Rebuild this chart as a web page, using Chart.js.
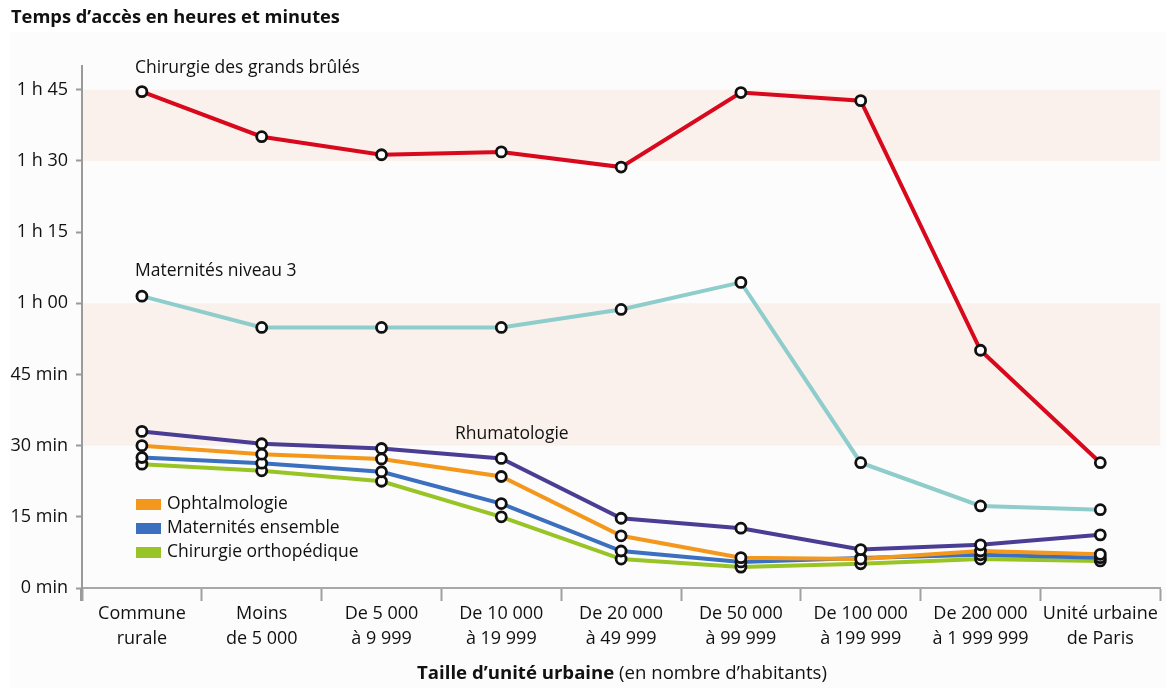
<!DOCTYPE html>
<html lang="fr">
<head>
<meta charset="utf-8">
<script src="https://cdn.jsdelivr.net/npm/chart.js@4.4.1/dist/chart.umd.min.js"></script>
<style>
  html, body { margin: 0; padding: 0; background: #ffffff; }
  #wrap { width: 1168px; height: 688px; position: relative; }
</style>
</head>
<body>
<div id="wrap"><canvas id="c" width="1168" height="688"></canvas></div>
<script>
// Catégories : taille d'unité urbaine
const categories = [
  ["Commune", "rurale"],
  ["Moins", "de 5 000"],
  ["De 5 000", "à 9 999"],
  ["De 10 000", "à 19 999"],
  ["De 20 000", "à 49 999"],
  ["De 50 000", "à 99 999"],
  ["De 100 000", "à 199 999"],
  ["De 200 000", "à 1 999 999"],
  ["Unité urbaine", "de Paris"]
];

// Temps d'accès, en minutes
const grandsBrules    = [104.6, 95.1, 91.3, 91.9, 88.7, 104.4, 102.7, 50.1, 26.4];
const maternitesN3    = [61.5, 54.9, 54.9, 54.9, 58.7, 64.4, 26.4, 17.3, 16.5];
const rhumatologie    = [33.0, 30.4, 29.4, 27.3, 14.7, 12.6, 8.1, 9.1, 11.2];
const ophtalmologie   = [30.0, 28.2, 27.2, 23.5, 11.0, 6.4, 6.1, 7.8, 7.1];
const maternitesEns   = [27.5, 26.3, 24.5, 17.8, 7.8, 5.5, 6.3, 7.0, 6.4];
const chirOrtho       = [26.1, 24.7, 22.5, 15.0, 6.1, 4.4, 5.1, 6.1, 5.7];

// Graduations de l'axe vertical
const yTickValues = [0, 15, 30, 45, 60, 75, 90, 105];
const yTickLabels = ["0 min", "15 min", "30 min", "45 min", "1 h 00", "1 h 15", "1 h 30", "1 h 45"];

// Bandes de fond (en minutes)
const bands = [[30, 60], [90, 105]];

const FONT = "'Open Sans', 'Noto Sans', sans-serif";

function series(label, data, color) {
  return {
    label, data,
    borderColor: color,
    backgroundColor: color,
    borderWidth: 4,
    tension: 0,
    pointRadius: 5,
    pointHoverRadius: 5,
    pointBorderWidth: 2.8,
    pointBorderColor: '#111111',
    pointBackgroundColor: '#ffffff'
  };
}

const datasets = [
  series("Chirurgie des grands brûlés", grandsBrules, '#d8091c'),
  series("Maternités niveau 3", maternitesN3, '#8ecdcb'),
  series("Rhumatologie", rhumatologie, '#4a3d94'),
  series("Ophtalmologie", ophtalmologie, '#f3981c'),
  series("Maternités ensemble", maternitesEns, '#3b6fbf'),
  series("Chirurgie orthopédique", chirOrtho, '#98c426')
];

// Fond, bandes, prolongements d'axes, textes
const decorPlugin = {
  id: 'decor',
  beforeDraw(chart) {
    const { ctx, chartArea: a, scales: { y } } = chart;
    ctx.save();
    ctx.fillStyle = '#fcfcfc';
    ctx.fillRect(10, 32, 1156, 656);
    ctx.fillStyle = '#faf1ec';
    bands.forEach(([lo, hi]) => {
      const yt = y.getPixelForValue(hi), yb = y.getPixelForValue(lo);
      ctx.fillRect(a.left, yt, a.right - a.left, yb - yt);
    });
    ctx.restore();
  },
  afterDraw(chart) {
    const { ctx, chartArea: a } = chart;
    ctx.save();
    // prolongement de l'axe vertical sous l'axe horizontal
    ctx.strokeStyle = '#9a9a9a';
    ctx.lineWidth = 2;
    ctx.beginPath();
    ctx.moveTo(a.left - 1, a.bottom);
    ctx.lineTo(a.left - 1, a.bottom + 13);
    ctx.stroke();

    // titre
    ctx.fillStyle = '#111111';
    ctx.textBaseline = 'middle';
    ctx.textAlign = 'left';
    ctx.font = `bold 18.3px ${FONT}`;
    ctx.fillText("Temps d’accès en heures et minutes", 11, 18);

    // étiquettes des séries
    ctx.font = `17.5px ${FONT}`;
    ctx.fillText("Chirurgie des grands brûlés", 135, 68);
    ctx.fillText("Maternités niveau 3", 135, 271);
    ctx.fillText("Rhumatologie", 455, 434);

    // légende
    const legendItems = [3, 4, 5];
    legendItems.forEach((di, i) => {
      const ds = chart.data.datasets[di];
      const yc = 504 + i * 24;
      ctx.fillStyle = ds.borderColor;
      ctx.fillRect(136, yc - 5, 25, 11);
      ctx.fillStyle = '#111111';
      ctx.fillText(ds.label, 167, yc);
    });

    // titre de l'axe horizontal
    ctx.font = `bold 18.6px ${FONT}`;
    const t1 = "Taille d’unité urbaine";
    const w1 = ctx.measureText(t1).width;
    ctx.font = `18.6px ${FONT}`;
    const t2 = " (en nombre d’habitants)";
    const w2 = ctx.measureText(t2).width;
    const x0 = 622 - (w1 + w2) / 2;
    ctx.font = `bold 18.6px ${FONT}`;
    ctx.fillText(t1, x0, 674);
    ctx.font = `18.6px ${FONT}`;
    ctx.fillText(t2, x0 + w1, 674);
    ctx.restore();
  }
};

new Chart(document.getElementById('c'), {
  type: 'line',
  data: { labels: categories, datasets },
  options: {
    responsive: false,
    devicePixelRatio: 1,
    animation: false,
    layout: { padding: { top: 66, right: 5, left: 0, bottom: 0 } },
    plugins: { legend: { display: false }, tooltip: { enabled: false } },
    scales: {
      x: {
        type: 'category',
        offset: true,
        grid: {
          offset: true,
          drawOnChartArea: false,
          drawTicks: true,
          tickLength: 13,
          tickWidth: 2,
          tickColor: '#a0a0a0'
        },
        border: { display: true, color: '#a8a8a8', width: 2 },
        ticks: {
          color: '#111111',
          font: { family: FONT, size: 18, lineHeight: 1.4 },
          padding: 0,
          maxRotation: 0,
          autoSkip: false
        },
        afterFit(scale) { scale.height = 100; }
      },
      y: {
        min: 0,
        max: 110,
        grid: {
          drawOnChartArea: false,
          drawTicks: true,
          tickLength: 6,
          tickWidth: 2,
          tickColor: '#9a9a9a'
        },
        border: { display: true, color: '#9a9a9a', width: 2 },
        afterBuildTicks(scale) {
          scale.ticks = yTickValues.map(v => ({ value: v }));
        },
        ticks: {
          color: '#111111',
          font: { family: FONT, size: 18 },
          padding: 8,
          callback(value) {
            const i = yTickValues.indexOf(value);
            return i >= 0 ? yTickLabels[i] : '';
          }
        },
        afterFit(scale) { scale.width = 82; }
      }
    }
  },
  plugins: [decorPlugin]
});
</script>
</body>
</html>
